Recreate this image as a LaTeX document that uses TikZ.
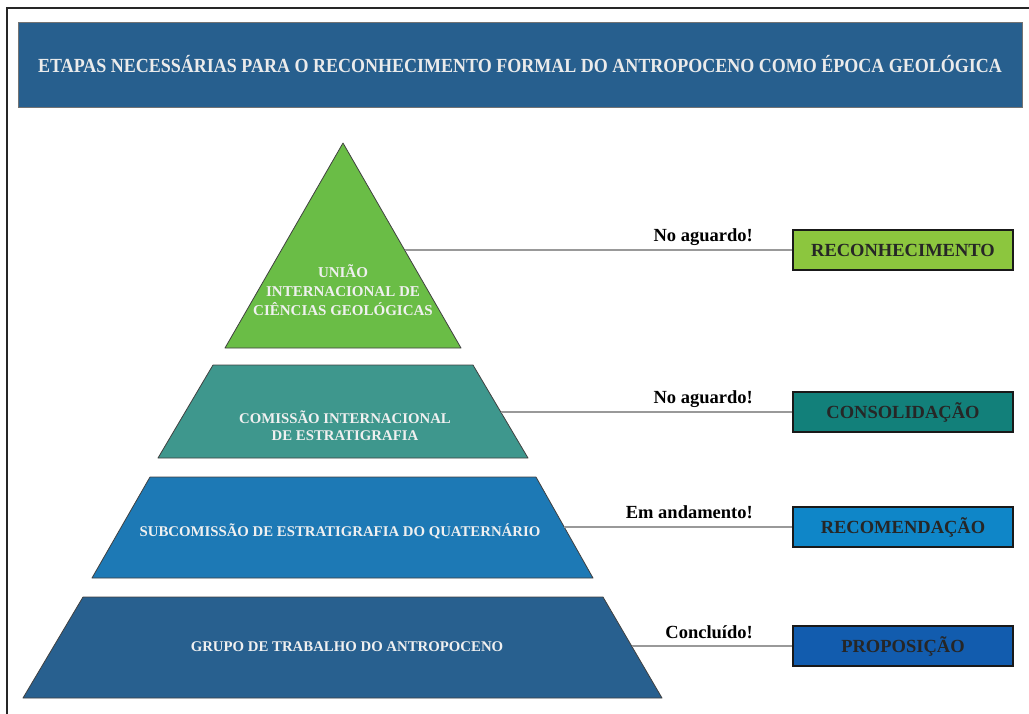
\documentclass[tikz,border=0pt]{standalone}
\usepackage{fontspec}
\setmainfont{Liberation Serif}
\usetikzlibrary{positioning}

\definecolor{bannerblue}{HTML}{275F8E}
\definecolor{tiergreen}{HTML}{6ABD46}
\definecolor{tierteal}{HTML}{3E978D}
\definecolor{tierblue}{HTML}{1D79B5}
\definecolor{tiernavy}{HTML}{28608F}
\definecolor{boxgreen}{HTML}{8CC63E}
\definecolor{boxteal}{HTML}{12807A}
\definecolor{boxblue}{HTML}{0F86C8}
\definecolor{boxnavy}{HTML}{125CAE}

\tikzset{
	tier/.style={draw=black!75, line width=0.8pt, line join=round},
	tiertext/.style={text=white!94!black, font=\bfseries\fontsize{14.8}{17}\selectfont, align=center},
	stagebox/.style={draw=black!90, line width=1.8pt, minimum width=220pt, minimum height=40pt,
		font=\bfseries\fontsize{18.5}{20}\selectfont, text=black!85},
	status/.style={font=\bfseries\fontsize{18.5}{20}\selectfont, anchor=base east, inner sep=0pt},
	leader/.style={draw=gray!80, line width=1.8pt}
}

\begin{document}
\begin{tikzpicture}[x=1pt, y=-1pt]
	\useasboundingbox (0,0) rectangle (1029,713);
	\clip (0,0) rectangle (1029,713);
	\def\lx{753}

	% frame and title
	\draw[line width=2pt, black!85] (7,8) rectangle (1040,725);
	\node[fill=bannerblue, draw=black!55, line width=0.6pt, minimum width=1004pt, minimum height=85pt,
		text=white!92!black, font=\bfseries\fontsize{20}{22}\selectfont] (title) at (520,64.5)
		{\scalebox{0.9}[1]{ETAPAS NECESSÁRIAS PARA O RECONHECIMENTO FORMAL DO ANTROPOCENO COMO ÉPOCA GEOLÓGICA}};

	% pyramid
	\filldraw[tier, fill=tiergreen] (343,143) -- (461,348) -- (225,348) -- cycle;
	\filldraw[tier, fill=tierteal] (213,365) -- (473,365) -- (528,458) -- (158,458) -- cycle;
	\filldraw[tier, fill=tierblue] (150,477) -- (536,477) -- (593,578) -- (92,578) -- cycle;
	\filldraw[tier, fill=tiernavy] (83,597) -- (603,597) -- (662,698) -- (23,698) -- cycle;

	\node[tiertext, font=\bfseries\fontsize{15}{19}\selectfont] (iugs) at (343,290)
		{UNIÃO\\INTERNACIONAL DE\\CIÊNCIAS GEOLÓGICAS};
	\node[tiertext] (ics) at (345,426) {COMISSÃO INTERNACIONAL\\DE ESTRATIGRAFIA};
	\node[tiertext] (sqs) at (340,531) {SUBCOMISSÃO DE ESTRATIGRAFIA DO QUATERNÁRIO};
	\node[tiertext] (awg) at (347,647) {GRUPO DE TRABALHO DO ANTROPOCENO};

	% stages
	\node[stagebox, fill=boxgreen] (reconhecimento) at (903,250) {RECONHECIMENTO};
	\node[stagebox, fill=boxteal] (consolidacao) at (903,412) {CONSOLIDAÇÃO};
	\node[stagebox, fill=boxblue] (recomendacao) at (903,527) {RECOMENDAÇÃO};
	\node[stagebox, fill=boxnavy] (proposicao) at (903,646) {PROPOSIÇÃO};

	\coordinate (e1) at (405,250);
	\coordinate (e2) at (501,412);
	\coordinate (e3) at (564,527);
	\coordinate (e4) at (632,646);

	\draw[leader] (e1) -- (reconhecimento.west);
	\draw[leader] (e2) -- (consolidacao.west);
	\draw[leader] (e3) -- (recomendacao.west);
	\draw[leader] (e4) -- (proposicao.west);

	\node[status] (s1) at (\lx,241) {No aguardo!};
	\node[status] (s2) at (\lx,403) {No aguardo!};
	\node[status] (s3) at (\lx,518) {Em andamento!};
	\node[status] (s4) at (\lx,638) {Concluído!};
\end{tikzpicture}
\end{document}
